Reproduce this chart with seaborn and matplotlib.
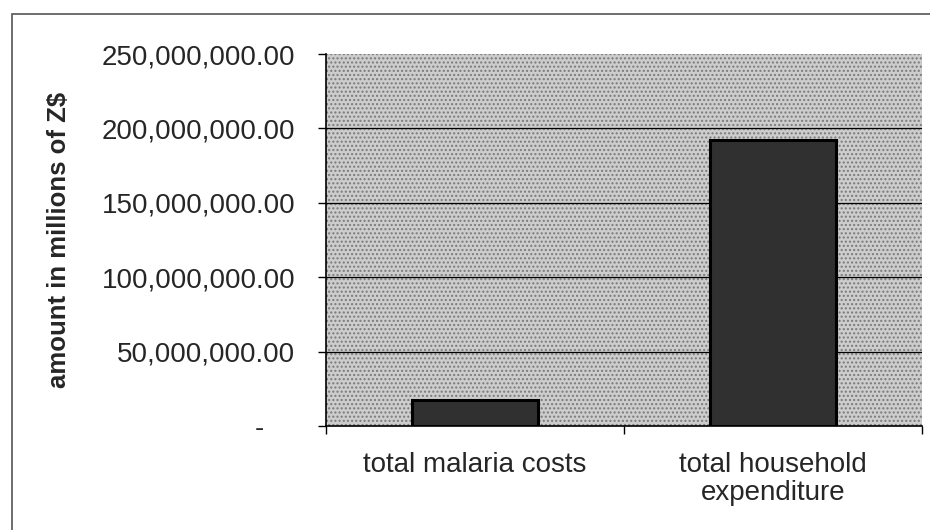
import numpy as np
import pandas as pd
import matplotlib
matplotlib.use("Agg")
import matplotlib.pyplot as plt
import seaborn as sns
from matplotlib.patches import Rectangle

# data
categories = ["total malaria costs", "total household\nexpenditure"]
amounts = [17500000, 192000000]
y_ticks = [0, 50000000, 100000000, 150000000, 200000000, 250000000]
y_tick_labels = ["-", "50,000,000.00", "100,000,000.00", "150,000,000.00",
                 "200,000,000.00", "250,000,000.00"]
y_label = "amount in millions of Z$"

df = pd.DataFrame({"category": categories, "amount": amounts})

sns.set_theme(style="white")
plt.rcParams["font.family"] = ["Liberation Sans", "DejaVu Sans"]

fig = plt.figure(figsize=(9.3, 5.3), dpi=100)
ax = fig.add_axes([326 / 930, 1 - 426 / 530, 596 / 930, 372 / 530])

# stippled grey plot area
ax.set_facecolor("#cdcdcd")
ax.add_patch(Rectangle((0, 0), 1, 1, transform=ax.transAxes, fill=False,
                       hatch="....", edgecolor="#7a7a7a", linewidth=0, zorder=0))

# gridlines (inner ticks only)
for v in y_ticks[1:-1]:
    ax.axhline(v, color="black", linewidth=0.9, zorder=1)

sns.barplot(data=df, x="category", y="amount", ax=ax, width=0.42,
            color="#303030", edgecolor="black", linewidth=2.2, zorder=2)

ax.set_ylim(y_ticks[0], y_ticks[-1])
ax.set_xlim(-0.5, len(categories) - 0.5)
ax.set_yticks(y_ticks)
# accounting style: the dash for zero sits a little left of the decimals
ax.set_yticklabels([t + "    " if t == "-" else t for t in y_tick_labels])
ax.set_xlabel("")
ax.set_ylabel("")

# category boundary ticks like the original
ax.set_xticks(np.arange(len(categories) + 1) - 0.5, minor=True)
ax.tick_params(axis="x", which="major", length=0, pad=19, labelsize=20)
ax.tick_params(axis="x", which="minor", bottom=True, direction="out",
               length=6, width=1, color="black")
ax.tick_params(axis="y", left=True, direction="out", length=6, width=1,
               color="black", pad=16, labelsize=20)
for lab in ax.get_xticklabels():
    lab.set_linespacing(1.1)

for s in ["top", "right"]:
    ax.spines[s].set_visible(False)
for s in ["left", "bottom"]:
    ax.spines[s].set_color("black")
    ax.spines[s].set_linewidth(1.2)

fig.text(59 / 930, 1 - 240 / 530, y_label, rotation=90, ha="center",
         va="center", fontsize=18.5, fontweight="bold")

# outer frame of the figure
fig.add_artist(Rectangle((12 / 930, -0.02), 1.0, 1 - 14 / 530 + 0.02,
                         transform=fig.transFigure, fill=False,
                         edgecolor="#555555", linewidth=1.2))

fig.savefig("out.png", dpi=100)
